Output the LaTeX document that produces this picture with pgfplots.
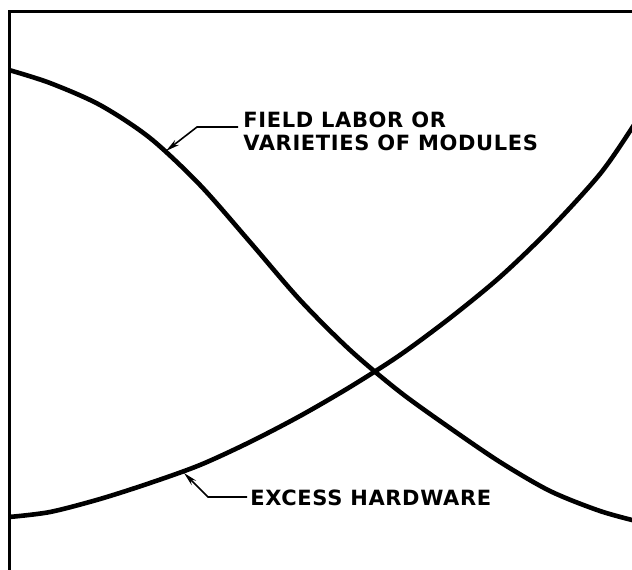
\documentclass[border=0pt]{standalone}
\usepackage{pgfplots}
\pgfplotsset{compat=1.18}
\usetikzlibrary{arrows.meta}
\usepackage{fontspec}
\setmainfont{DejaVu Sans}
\newfontfamily\lbl[LetterSpace=3]{DejaVu Sans Bold}
\begin{document}
\begin{tikzpicture}
\useasboundingbox (0,0) rectangle (316pt,284.5pt);
\begin{axis}[
  scale only axis, width=316pt, height=284.5pt,
  xmin=0, xmax=632, ymin=0, ymax=569,
  hide axis, clip=true,
]
% frame (left and top)
\addplot[black, line width=1.5pt, line join=miter] coordinates {(9,-5) (9,557) (640,557)};
% FIELD LABOR / VARIETIES OF MODULES (decreasing); y = 569 - pixel row
\addplot[black, line width=2.3pt, smooth] coordinates {
(9,499) (50,486) (100,464) (150,431) (200,384) (250,327) (300,269)
(350,219) (400,177) (450,141) (500,107) (550,78)
(600,58) (640,47)};
% EXCESS HARDWARE (increasing)
\addplot[black, line width=2.3pt, smooth] coordinates {
(9,52) (50,57) (100,70) (150,86) (200,104) (250,127) (300,153)
(350,182) (400,214) (450,251) (500,292) (550,340)
(600,395) (632,441) (640,455)};
% leaders
\draw[black, line width=0.8pt, -{Stealth[length=7pt,width=3.2pt]}]
  (axis cs:238,442) -- (axis cs:197,442) -- (axis cs:166,418);
\draw[black, line width=0.8pt, -{Stealth[length=7pt,width=3.2pt]}]
  (axis cs:247,72) -- (axis cs:208,72) -- (axis cs:184,96);
% labels
\node[anchor=base west, inner sep=0pt, font=\lbl\fontsize{10.5pt}{12pt}\selectfont] at (axis cs:243,441) {FIELD LABOR OR};
\node[anchor=base west, inner sep=0pt, font=\lbl\fontsize{10.5pt}{12pt}\selectfont] at (axis cs:243,419) {VARIETIES OF MODULES};
\node[anchor=base west, inner sep=0pt, font=\lbl\fontsize{10.5pt}{12pt}\selectfont] at (axis cs:250,64) {EXCESS HARDWARE};
\end{axis}
\end{tikzpicture}
\end{document}
